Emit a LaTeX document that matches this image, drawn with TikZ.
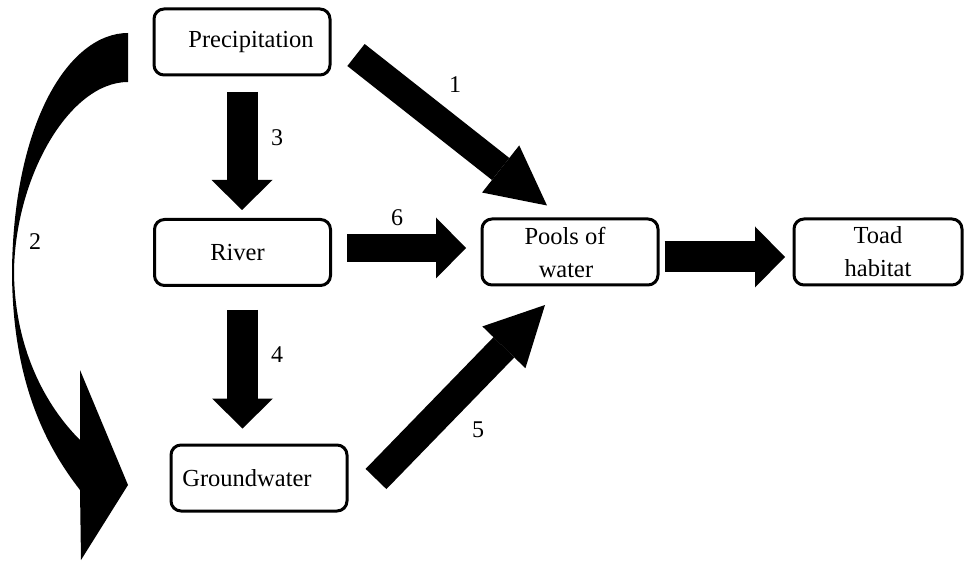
\documentclass[tikz,border=0pt]{standalone}
\usepackage{fontspec}
\setmainfont{Liberation Serif}
\usetikzlibrary{arrows.meta}

\tikzset{
  box/.style={draw, line width=3pt, rounded corners=10pt, minimum width=176pt,
    minimum height=66pt, align=center, font=\fontsize{24.5}{33}\selectfont},
  fatarrow/.style={line width=31pt, -{Triangle[width=61pt,length=30pt,line width=0pt]}},
  slantarrow/.style={line width=29pt, -{Triangle[width=60pt,length=59pt,line width=0pt]}},
  num/.style={font=\fontsize{24}{28}\selectfont}
}

\begin{document}
\begin{tikzpicture}[x=1pt, y=-1pt]
        \useasboundingbox (0,0) rectangle (964,561);

        \node (prec)   at (242,  42)  [box] {\hspace*{18pt}Precipitation};
        \node (river)  at (242.5,252.5) [box] {River\hspace*{10pt}};
        \node (ground) at (259, 478)  [box] {Groundwater\hspace*{24pt}};
        \node (pools)  at (570, 252)  [box] {Pools of\hspace*{10pt}\\water\hspace*{8pt}};
        \node (toad)   at (878, 252)  [box, minimum width=168pt] {Toad\\habitat};

        % straight flows
        \draw [fatarrow, shorten <=15.5pt, shorten >=8pt]  (prec.south)  -- (prec.south |- river.north);
        \draw [fatarrow, shorten <=23pt,   shorten >=15pt] (river.south) -- (river.south |- ground.north);
        \draw [fatarrow, line width=28pt, shorten <=15pt, shorten >=14.5pt]
              ([yshift=4.5pt]river.east) -- ([yshift=4.5pt]river.east -| pools.west);
        \draw [fatarrow, shorten <=5pt, shorten >=7.5pt]
              ([yshift=-5pt]pools.east) -- ([yshift=-5pt]pools.east -| toad.west);

        % slanted flows
        \draw [slantarrow, line width=28pt] ([shift={(24.5,13)}]prec.east) -- ([shift={(-23,-12)}]pools.north);
        \draw [slantarrow] ([shift={(27.5,1)}]ground.east) -- ([shift={(-25,18.5)}]pools.south);

        % curved flow from precipitation to groundwater
        \fill (128,33) .. controls (70,33) and (14,120) .. (12,270)
              .. controls (12,380) and (45,445) .. (80,490)
              -- (81,560) -- (128,485) -- (80,370) -- (80,440)
              .. controls (40,400) and (14,340) .. (14,270)
              .. controls (16,175) and (70,82) .. (128,82) -- cycle;

        \node (n1) at (455,  85) [num] {1};
        \node (n2) at ( 35, 242) [num] {2};
        \node (n3) at (277, 138) [num] {3};
        \node (n4) at (277, 355) [num] {4};
        \node (n5) at (478, 430) [num] {5};
        \node (n6) at (397, 218) [num] {6};
\end{tikzpicture}
\end{document}
